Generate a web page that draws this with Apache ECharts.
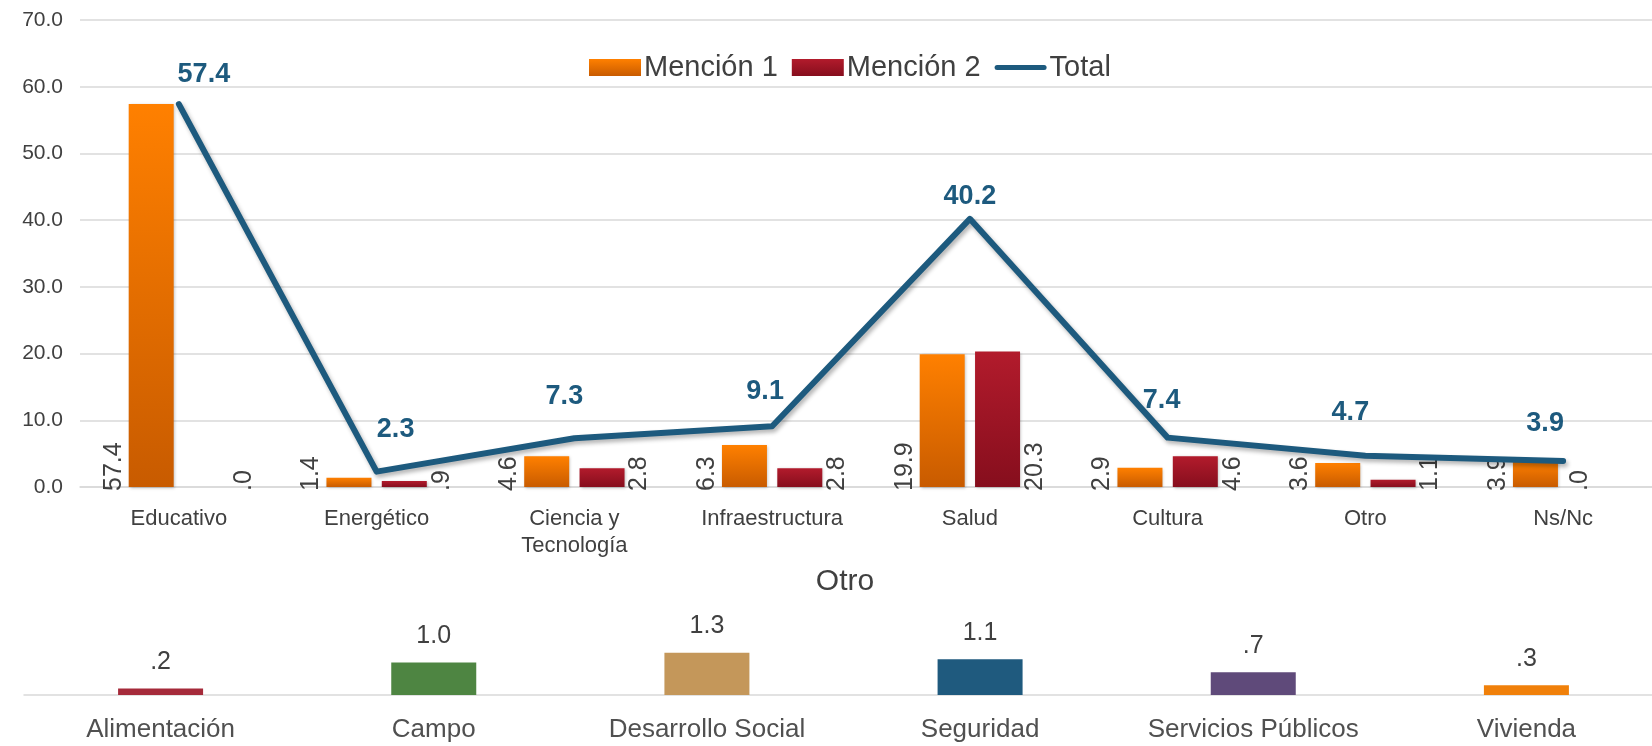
<!DOCTYPE html>
<html>
<head>
<meta charset="utf-8">
<title>Mención por sector</title>
<script src="https://cdn.jsdelivr.net/npm/echarts@6/dist/echarts.min.js"></script>
<style>
    html, body {margin: 0; padding: 0; background: #fff;}
    #chart {width: 1652px; height: 746px;}
</style>
</head>
<body>
<div id="chart"></div>
<script>
var categories = ['Educativo', 'Energético', 'Ciencia y\nTecnología', 'Infraestructura', 'Salud', 'Cultura', 'Otro', 'Ns/Nc'];
var mencion1 = [57.4, 1.4, 4.6, 6.3, 19.9, 2.9, 3.6, 3.9];
var mencion2 = [0, 0.9, 2.8, 2.8, 20.3, 4.6, 1.1, 0];
var total = [57.4, 2.3, 7.3, 9.1, 40.2, 7.4, 4.7, 3.9];
var yTicks = [0, 10, 20, 30, 40, 50, 60, 70];

var otroCats = ['Alimentación', 'Campo', 'Desarrollo Social', 'Seguridad', 'Servicios Públicos', 'Vivienda'];
var otroValues = [0.2, 1.0, 1.3, 1.1, 0.7, 0.3];

// styling only
var otroColors = ['#a52a3a', '#4e8542', '#c4975a', '#1f5a7e', '#5f4a7a', '#f0800a'];
var totalLabelShift = [[25, -30], [19, -42], [-10, -42], [-7, -35], [0, -22], [-6, -37], [-15, -43], [-18, -37]];

var txt = '#404040';
var grad = function (top, bottom) {
    return new echarts.graphic.LinearGradient(0, 0, 0, 1, [{offset: 0, color: top}, {offset: 1, color: bottom}]);
};
var fmt = function (v) {
    return v.toFixed(1).replace(/^0\./, '.');
};

// offset is applied in the rotated text frame: [along text, across text]
var barLabel = function (side) {
    return {
        show: true,
        rotate: 90,
        position: side === 'left' ? [0, '100%'] : ['100%', '100%'],
        offset: side === 'left' ? [-4, -15] : [-4, 15],
        align: 'left',
        verticalAlign: 'middle',
        fontFamily: 'Liberation Sans',
        fontSize: 25,
        color: txt,
        formatter: function (p) { return fmt(p.value); }
    };
};

var totalData = total.map(function (v, i) {
    return {
        value: v,
        label: {offset: totalLabelShift[i]}
    };
});

// the empty Ns/Nc bar has its label pulled back next to the orange bar
var mencion2Data = mencion2.map(function (v, i) {
    return i === mencion2.length - 1 ? {value: v, label: {offset: [-4, -33]}} : v;
});

var otroData = otroValues.map(function (v, i) {
    return {value: v, itemStyle: {color: otroColors[i]}};
});

var chart = echarts.init(document.getElementById('chart'));
chart.setOption({
    animation: false,
    title: {
        text: 'Otro', left: 840, top: 562, textAlign: 'center',
        textStyle: {fontFamily: 'Liberation Sans', fontSize: 30, fontWeight: 'normal', color: txt}
    },
    legend: {
        left: 584, top: 48,
        icon: 'rect',
        itemWidth: 52, itemHeight: 17, itemGap: 14,
        textStyle: {fontFamily: 'Liberation Sans', fontSize: 29, color: txt, padding: [0, 0, 0, -2]},
        data: ['Mención 1', 'Mención 2', {name: 'Total', icon: 'path://M2.5,0h47a2.5,2.5 0 0 1 0,5h-47a2.5,2.5 0 0 1 0,-5z'}]
    },
    grid: [
        {left: 80, right: -10, top: 20, bottom: 259, outerBoundsMode: 'none'},
        {left: 24, right: -11, top: 630, bottom: 51, outerBoundsMode: 'none'}
    ],
    xAxis: [
        {
            type: 'category', gridIndex: 0, data: categories,
            axisLine: {lineStyle: {color: '#d9d9d9', width: 1.5}},
            axisTick: {show: false},
            axisLabel: {fontFamily: 'Liberation Sans', fontSize: 22, color: txt, margin: 18, lineHeight: 27, interval: 0}
        },
        {
            type: 'category', gridIndex: 1, data: otroCats,
            axisLine: {lineStyle: {color: '#d9d9d9', width: 1.5}},
            axisTick: {show: false},
            axisLabel: {fontFamily: 'Liberation Sans', fontSize: 26, color: '#505050', margin: 22, interval: 0, hideOverlap: false}
        }
    ],
    yAxis: [
        {
            type: 'value', gridIndex: 0, min: yTicks[0], max: yTicks[yTicks.length - 1], interval: 10,
            axisLine: {show: false}, axisTick: {show: false},
            splitLine: {lineStyle: {color: '#d9d9d9', width: 1.5}},
            axisLabel: {fontFamily: 'Liberation Sans', fontSize: 21, color: txt, margin: 17,
                formatter: function (v) { return v.toFixed(1); }}
        },
        {
            type: 'value', gridIndex: 1, min: 0, max: 2, show: false, splitLine: {show: false}
        }
    ],
    series: [
        {
            name: 'Mención 1', type: 'bar', xAxisIndex: 0, yAxisIndex: 0,
            data: mencion1, barWidth: 45, barGap: '23%',
            itemStyle: {color: grad('#ff8000', '#c85b00'), shadowColor: 'rgba(0,0,0,0.25)', shadowBlur: 3, shadowOffsetX: 1, shadowOffsetY: 1},
            label: barLabel('left')
        },
        {
            name: 'Mención 2', type: 'bar', xAxisIndex: 0, yAxisIndex: 0,
            data: mencion2Data, barWidth: 45,
            itemStyle: {color: grad('#b21b2c', '#860e1d'), shadowColor: 'rgba(0,0,0,0.25)', shadowBlur: 3, shadowOffsetX: 1, shadowOffsetY: 1},
            label: barLabel('right')
        },
        {
            name: 'Total', type: 'line', xAxisIndex: 0, yAxisIndex: 0,
            data: totalData, symbol: 'circle', symbolSize: 1,
            itemStyle: {color: '#1d5a7e'},
            lineStyle: {color: '#1d5a7e', width: 6, cap: 'round', join: 'round',
                shadowColor: 'rgba(0,0,0,0.3)', shadowBlur: 4, shadowOffsetX: 2, shadowOffsetY: 3},
            label: {
                show: true, position: 'inside',
                fontFamily: 'Liberation Sans', fontSize: 27, fontWeight: 'bold', color: '#1d5a7e',
                formatter: function (p) { return fmt(p.value); }
            },
            z: 5
        },
        {
            name: 'Otro', type: 'bar', xAxisIndex: 1, yAxisIndex: 1,
            data: otroData, barWidth: 85,
            label: {
                show: true, position: 'top', distance: 14,
                fontFamily: 'Liberation Sans', fontSize: 25, color: txt,
                formatter: function (p) { return fmt(p.value); }
            }
        }
    ]
});
</script>
</body>
</html>
